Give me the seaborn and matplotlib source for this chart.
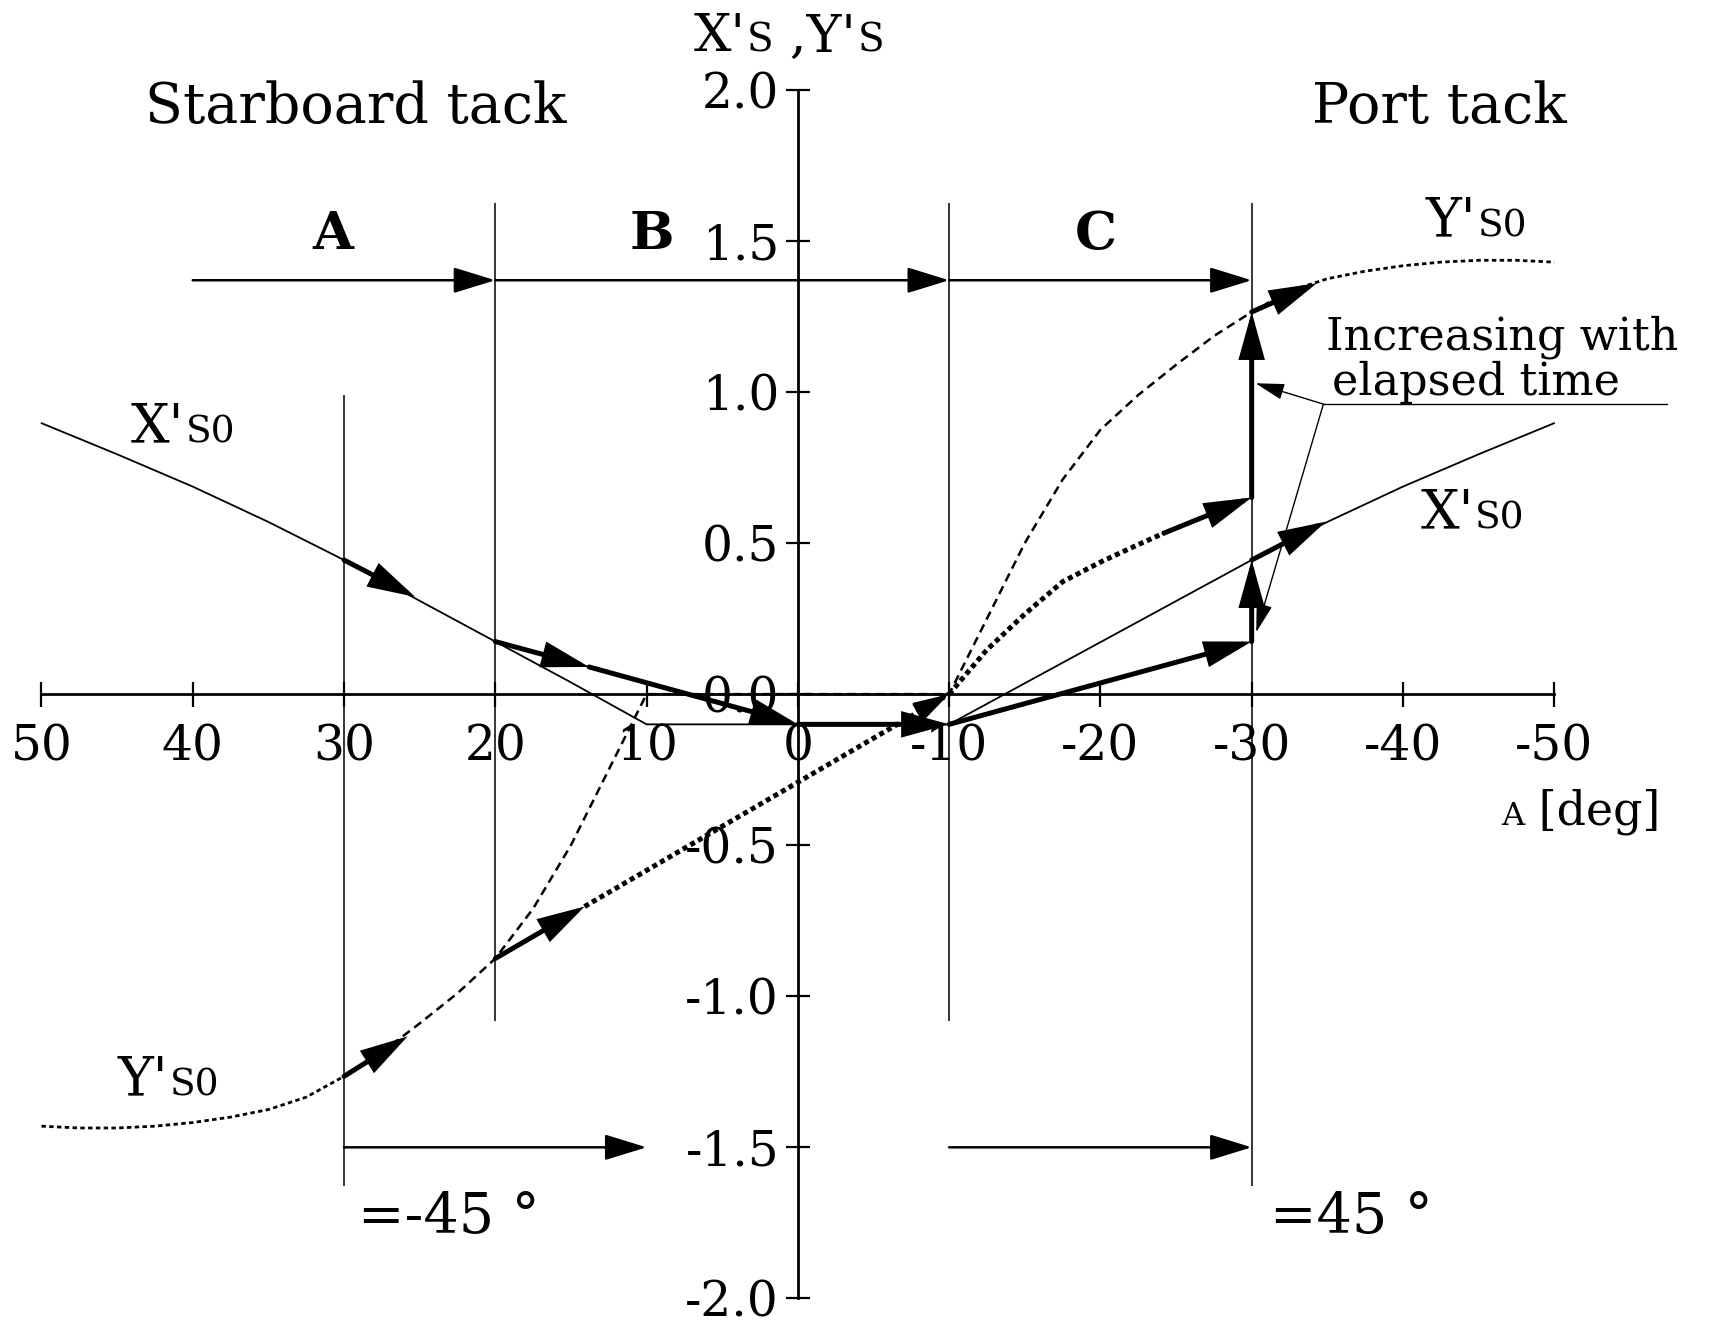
import numpy as np
import matplotlib.pyplot as plt
import seaborn as sns
import pandas as pd

# sail force coefficients against apparent wind angle A [deg]
angle_x = [50, 45, 40, 35, 30, 25, 20, 15, 10, 0, -10, -15, -20, -25, -30, -35, -40, -45, -50]
xs0 = [0.897, 0.794, 0.687, 0.570, 0.444, 0.309, 0.174, 0.039, -0.10, -0.10, -0.10,
       0.036, 0.172, 0.308, 0.444, 0.570, 0.687, 0.794, 0.897]

angle_y = [50, 47.5, 45, 42.5, 40, 37.5, 35, 32.5, 30, 27.5, 25, 22.5, 20, 17.5, 15, 12.5, 10, 0,
           -10, -12.5, -15, -17.5, -20, -22.5, -25, -27.5, -30, -32.5, -35, -37.5, -40, -42.5, -45, -47.5, -50]
ys0 = [-1.43, -1.436, -1.436, -1.43, -1.418, -1.40, -1.375, -1.334, -1.265, -1.185, -1.09, -0.99, -0.875,
       -0.71, -0.50, -0.25, 0.0, 0.0,
       0.0, 0.25, 0.50, 0.71, 0.875, 0.99, 1.09, 1.185, 1.265, 1.334, 1.375, 1.40, 1.418, 1.43, 1.436, 1.436, 1.43]

# X'S path (thick arrows)
xs_start = [(30, 0.444), (20, 0.174), (13.8, 0.090), (0, -0.10), (-10, -0.10), (-30, 0.174), (-30, 0.444)]
xs_end = [(25.3, 0.322), (13.8, 0.090), (0, -0.10), (-10, -0.10), (-30, 0.174), (-30, 0.444), (-34.9, 0.571)]

# Y'S path, solid arrows
ys_start = [(30, -1.265), (20, -0.875), (-24.2, 0.533), (-30, 0.651), (-30, 1.265)]
ys_end = [(25.8, -1.133), (14.1, -0.703), (-30, 0.651), (-30, 1.265), (-34.3, 1.36)]
# Y'S path, dotted parts
ys_dot1_angle = [14.1, -10]
ys_dot1 = [-0.703, 0.0]
ys_dot2_angle = [-10, -12.5, -15, -17.5, -20, -22.5, -24.2]
ys_dot2 = [0.0, 0.147, 0.265, 0.372, 0.437, 0.495, 0.533]

# regions A, B, C
region_x = [30, 20, -10, -30]
region_top = [0.99, 1.627, 1.627, 1.627]
region_bottom = [-1.627, -1.082, -1.082, -1.627]
top_from = [40, 20, -10]
top_to = [20, -10, -30]
top_y = 1.37
bottom_from = [30, -10]
bottom_to = [10, -30]
bottom_y = -1.5

x_ticks = [50, 40, 30, 20, 10, 0, -10, -20, -30, -40, -50]
x_ticklabels = ['50', '40', '30', '20', '10', '0', '-10', '-20', '-30', '-40', '-50']
y_ticks = [2.0, 1.5, 1.0, 0.5, 0.0, -0.5, -1.0, -1.5, -2.0]
y_ticklabels = ['2.0', '1.5', '1.0', '0.5', '0.0', '-0.5', '-1.0', '-1.5', '-2.0']

sns.set_style('white')
plt.rcParams['font.family'] = ['DejaVu Serif']
plt.rcParams['text.color'] = 'k'
plt.rcParams['xtick.color'] = 'k'
plt.rcParams['ytick.color'] = 'k'
plt.rcParams['xtick.labelcolor'] = 'k'
plt.rcParams['ytick.labelcolor'] = 'k'

fig = plt.figure(figsize=(17.09, 13.24), dpi=100)
ax = fig.add_axes([0, 0, 1, 1])

dfx = pd.DataFrame({'A': angle_x, 'X': xs0})
dfy = pd.DataFrame({'A': angle_y, 'Y': ys0})
inner = dfy[dfy['A'].abs() <= 30]
outer_l = dfy[dfy['A'] >= 30]
outer_r = dfy[dfy['A'] <= -30]

sns.lineplot(data=dfx, x='A', y='X', color='k', lw=1.3, sort=False, estimator=None, ax=ax)
sns.lineplot(data=inner, x='A', y='Y', color='k', lw=1.8, linestyle=(0, (3.5, 2.2)),
             sort=False, estimator=None, ax=ax)
for part in [outer_l, outer_r]:
    sns.lineplot(data=part, x='A', y='Y', color='k', lw=2.0, linestyle=(0, (1.6, 1.2)),
                 sort=False, estimator=None, ax=ax)

# thick dotted Y'S path
ax.plot(ys_dot1_angle, ys_dot1, color='k', lw=3.6, linestyle=(0, (1, 0.75)))
ax.plot(ys_dot2_angle, ys_dot2, color='k', lw=3.6, linestyle=(0, (1, 0.75)))
ax.annotate('', xy=(ys_dot1_angle[1], ys_dot1[1]), xytext=(-8.5, -0.043),
            arrowprops=dict(arrowstyle='-|>,head_length=1.1,head_width=0.32', lw=2,
                            color='k', shrinkA=0, shrinkB=0, mutation_scale=20))

thick = dict(arrowstyle='-|>,head_length=1.3,head_width=0.36', lw=3.6, color='k',
             shrinkA=0, shrinkB=0, mutation_scale=20, joinstyle='miter')
for s, e in zip(xs_start + ys_start, xs_end + ys_end):
    ax.annotate('', xy=e, xytext=s, arrowprops=thick)

# region boundaries and arrows
ax.vlines(region_x, region_bottom, region_top, color='k', lw=1.1)
thin = dict(arrowstyle='-|>,head_length=1.3,head_width=0.4', lw=1.8, color='k',
            shrinkA=0, shrinkB=0, mutation_scale=20)
for a, b in zip(top_from, top_to):
    ax.annotate('', xy=(b, top_y), xytext=(a, top_y), arrowprops=thin)
for a, b in zip(bottom_from, bottom_to):
    ax.annotate('', xy=(b, bottom_y), xytext=(a, bottom_y), arrowprops=thin)

# "Increasing with elapsed time" leaders
ax.plot([-34.74, -57.46], [0.96, 0.96], color='k', lw=1.0)
lead = dict(arrowstyle='-|>,head_length=0.9,head_width=0.25', lw=1.0, color='k',
            shrinkA=0, shrinkB=0, mutation_scale=20)
ax.annotate('', xy=(-30.25, 1.029), xytext=(-34.74, 0.96), arrowprops=lead)
ax.annotate('', xy=(-30.3, 0.205), xytext=(-34.74, 0.96), arrowprops=lead)

# axes through the origin
ax.set_xlim(52.74, -60.23)
ax.set_ylim(-2.0848, 2.2976)
for side in ['top', 'right']:
    ax.spines[side].set_visible(False)
ax.spines['left'].set_position(('data', 0))
ax.spines['bottom'].set_position(('data', 0))
ax.spines['left'].set_bounds(-2, 2)
ax.spines['bottom'].set_bounds(-50, 50)
for side in ['left', 'bottom']:
    ax.spines[side].set_linewidth(2.0)
    ax.spines[side].set_color('k')
ax.set_xticks(x_ticks)
ax.set_xticklabels(x_ticklabels)
ax.set_yticks(y_ticks)
ax.set_yticklabels(y_ticklabels)
ax.tick_params(axis='x', direction='inout', length=18, width=1.6, pad=12,
               labelsize=35, color='k', labelcolor='k', bottom=True)
ax.tick_params(axis='y', direction='inout', length=17, width=1.6, pad=5,
               labelsize=35, color='k', labelcolor='k', left=True)
ax.set_xlabel('')
ax.set_ylabel('')


def label(x, y, big, small, size=39, small_size=27):
    t = ax.text(x, y, big, fontsize=size, ha='left', va='baseline')
    return ax.annotate(small, xy=(1, 0), xycoords=t, xytext=(1, 2),
                       textcoords='offset points', fontsize=small_size,
                       ha='left', va='bottom')


label(44.09, 0.833, "X'", 'S0')
label(-41.14, 0.548, "X'", 'S0')
label(-41.5, 1.515, "Y'", 'S0')
label(44.96, -1.327, "Y'", 'S0')

# y axis title X'S ,Y'S
t1 = label(6.9, 2.128, "X'", 'S', size=38, small_size=28)
t2 = ax.annotate(" ,Y'", xy=(1, 0), xycoords=t1, xytext=(0, -2), textcoords='offset points',
                 fontsize=38, ha='left', va='bottom')
ax.annotate('S', xy=(1, 0), xycoords=t2, xytext=(1, 2), textcoords='offset points',
            fontsize=28, ha='left', va='bottom')

# x axis title
ta = ax.text(-46.47, -0.433, 'A', fontsize=23, ha='left', va='baseline')
ax.annotate(' [deg]', xy=(1, 0), xycoords=ta, xytext=(0, -2), textcoords='offset points',
            fontsize=33, ha='left', va='bottom')

ax.text(29.2, 1.89, 'Starboard tack', fontsize=40, ha='center', va='baseline')
ax.text(-42.4, 1.89, 'Port tack', fontsize=40, ha='center', va='baseline')
for name, xc in zip(['A', 'B', 'C'], [30.76, 9.65, -19.67]):
    ax.text(xc, 1.472, name, fontsize=38, fontweight='bold', ha='center', va='baseline')
ax.text(29.1, -1.785, '=-45 °', fontsize=40, ha='left', va='baseline')
ax.text(-31.2, -1.785, '=45 °', fontsize=40, ha='left', va='baseline')
ax.text(-34.94, 1.14, 'Increasing with', fontsize=32, ha='left', va='baseline')
ax.text(-35.3, 0.99, 'elapsed time', fontsize=32, ha='left', va='baseline')

fig.savefig('out.png', dpi=100)
